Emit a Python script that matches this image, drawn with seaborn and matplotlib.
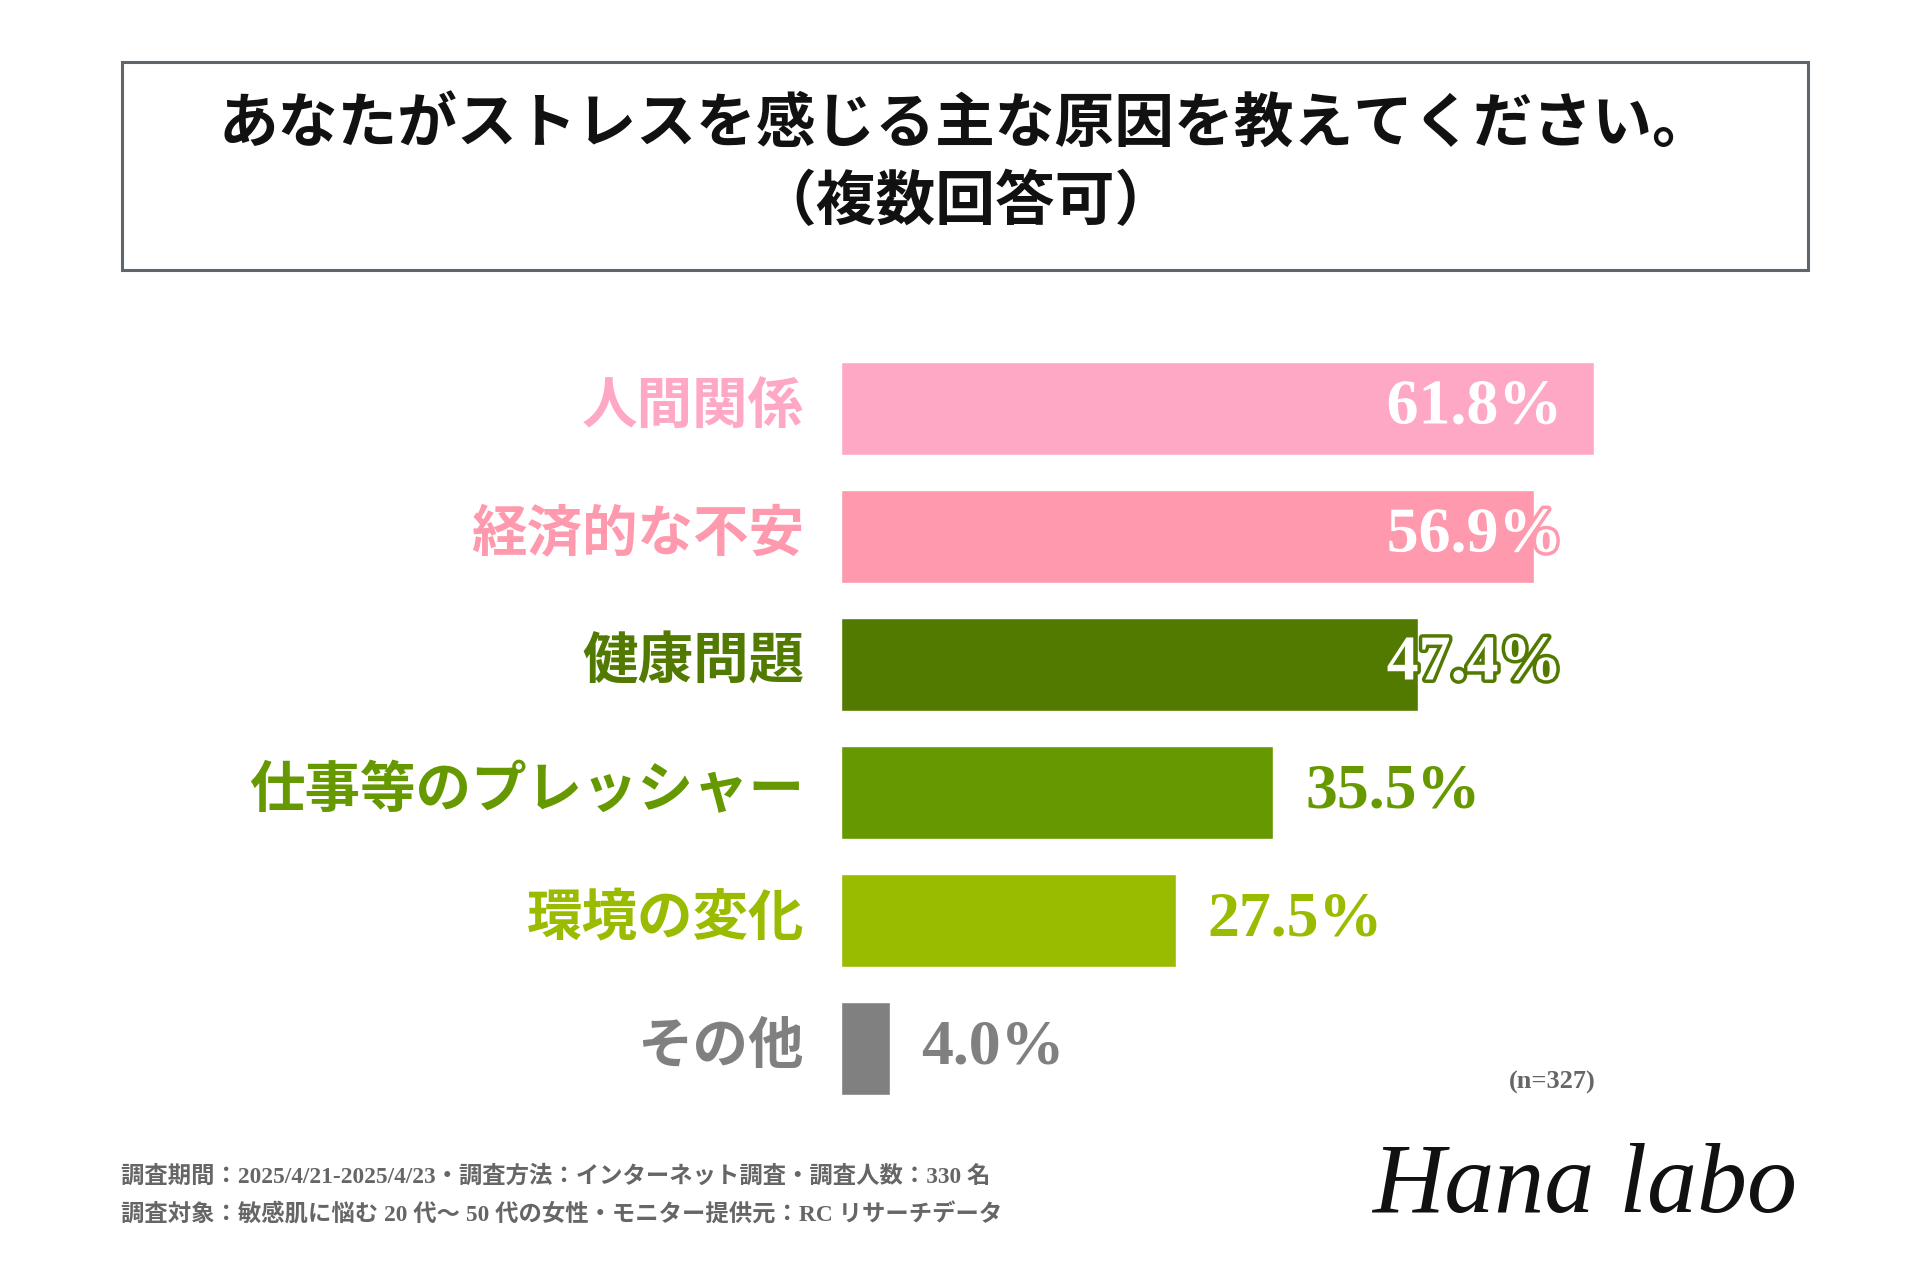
import numpy as np
import pandas as pd
import matplotlib
matplotlib.use("Agg")
import matplotlib.pyplot as plt
import matplotlib.patheffects as pe
from matplotlib.patches import Rectangle
import seaborn as sns

### data
categories = ["人間関係", "経済的な不安", "健康問題", "仕事等のプレッシャー", "環境の変化", "その他"]
values = [61.8, 56.9, 47.4, 35.5, 27.5, 4.0]
bar_colors = ["#FFA8C5", "#FF99AE", "#527A00", "#669900", "#99BB00", "#808080"]
title_lines = ["あなたがストレスを感じる主な原因を教えてください。", "（複数回答可）"]
sample_note = "(n=327)"
footer_lines = [
    "調査期間：2025/4/21-2025/4/23・調査方法：インターネット調査・調査人数：330 名",
    "調査対象：敏感肌に悩む 20 代〜 50 代の女性・モニター提供元：RC リサーチデータ",
]
brand = "Hana labo"

df = pd.DataFrame({"category": categories, "value": values})
palette = dict(zip(categories, bar_colors))

sns.set_style("white")
plt.rcParams['font.family'] = ['Liberation Serif', 'Noto Sans CJK JP', 'DejaVu Sans']

W, H = 1920, 1280
fig = plt.figure(figsize=(W / 100, H / 100), dpi=100)
fig.patch.set_facecolor("white")

# overlay in pixel coords for title box, notes, footer
ov = fig.add_axes([0, 0, 1, 1])
ov.set_xlim(0, W)
ov.set_ylim(H, 0)
ov.axis("off")

ov.add_patch(Rectangle((122, 62), 1686, 208, fill=False, edgecolor="#5f666b", linewidth=2.2))
ov.text(965, 127, title_lines[0], ha="center", va="center", fontsize=43, fontweight="bold", color="#111111")
ov.text(965, 204, title_lines[1], ha="center", va="center", fontsize=43, fontweight="bold", color="#111111")

ov.text(1596, 1082, sample_note, ha="right", va="center", fontsize=19, fontweight="bold", color="#666666")
ov.text(121, 1177, footer_lines[0], ha="left", va="center", fontsize=16.8, fontweight="bold", color="#666666")
ov.text(121, 1215, footer_lines[1], ha="left", va="center", fontsize=16.8, fontweight="bold", color="#666666")
ov.text(1585, 1188, brand, ha="center", va="center", fontsize=72, fontstyle="italic",
        color="#111111", family=["Liberation Serif"])

# bar axes: 1% = 12.18 px, rows 128 px apart
px_per_pct = 12.18
ax_left, ax_w = 841, 900
ax_top, ax_bot = 344.5, 1112.5
ax = fig.add_axes([ax_left / W, 1 - ax_bot / H, ax_w / W, (ax_bot - ax_top) / H])
sns.barplot(data=df, x="value", y="category", hue="category", palette=palette,
            order=categories, width=0.72, saturation=1, legend=False, ax=ax)
ax.set_xlim(0, ax_w / px_per_pct)
ax.set_ylim(len(categories) - 0.5, -0.5)
ax.axis("off")

for i, (cat, v, c) in enumerate(zip(categories, values, bar_colors)):
    # category label
    ax.text(-37 / px_per_pct, i, cat, ha="right", va="center", fontsize=40,
            fontweight="bold", color=c)
    label = f"{v:.1f}%"
    if v > 45:
        ax.text(59.2, i, label, ha="right", va="center", fontsize=46, fontweight="bold",
                color="white", path_effects=[pe.withStroke(linewidth=5, foreground=c)])
    else:
        ax.text(v + 2.6, i, label, ha="left", va="center", fontsize=46,
                fontweight="bold", color=c)

fig.savefig("out.png", dpi=100, facecolor="white")
